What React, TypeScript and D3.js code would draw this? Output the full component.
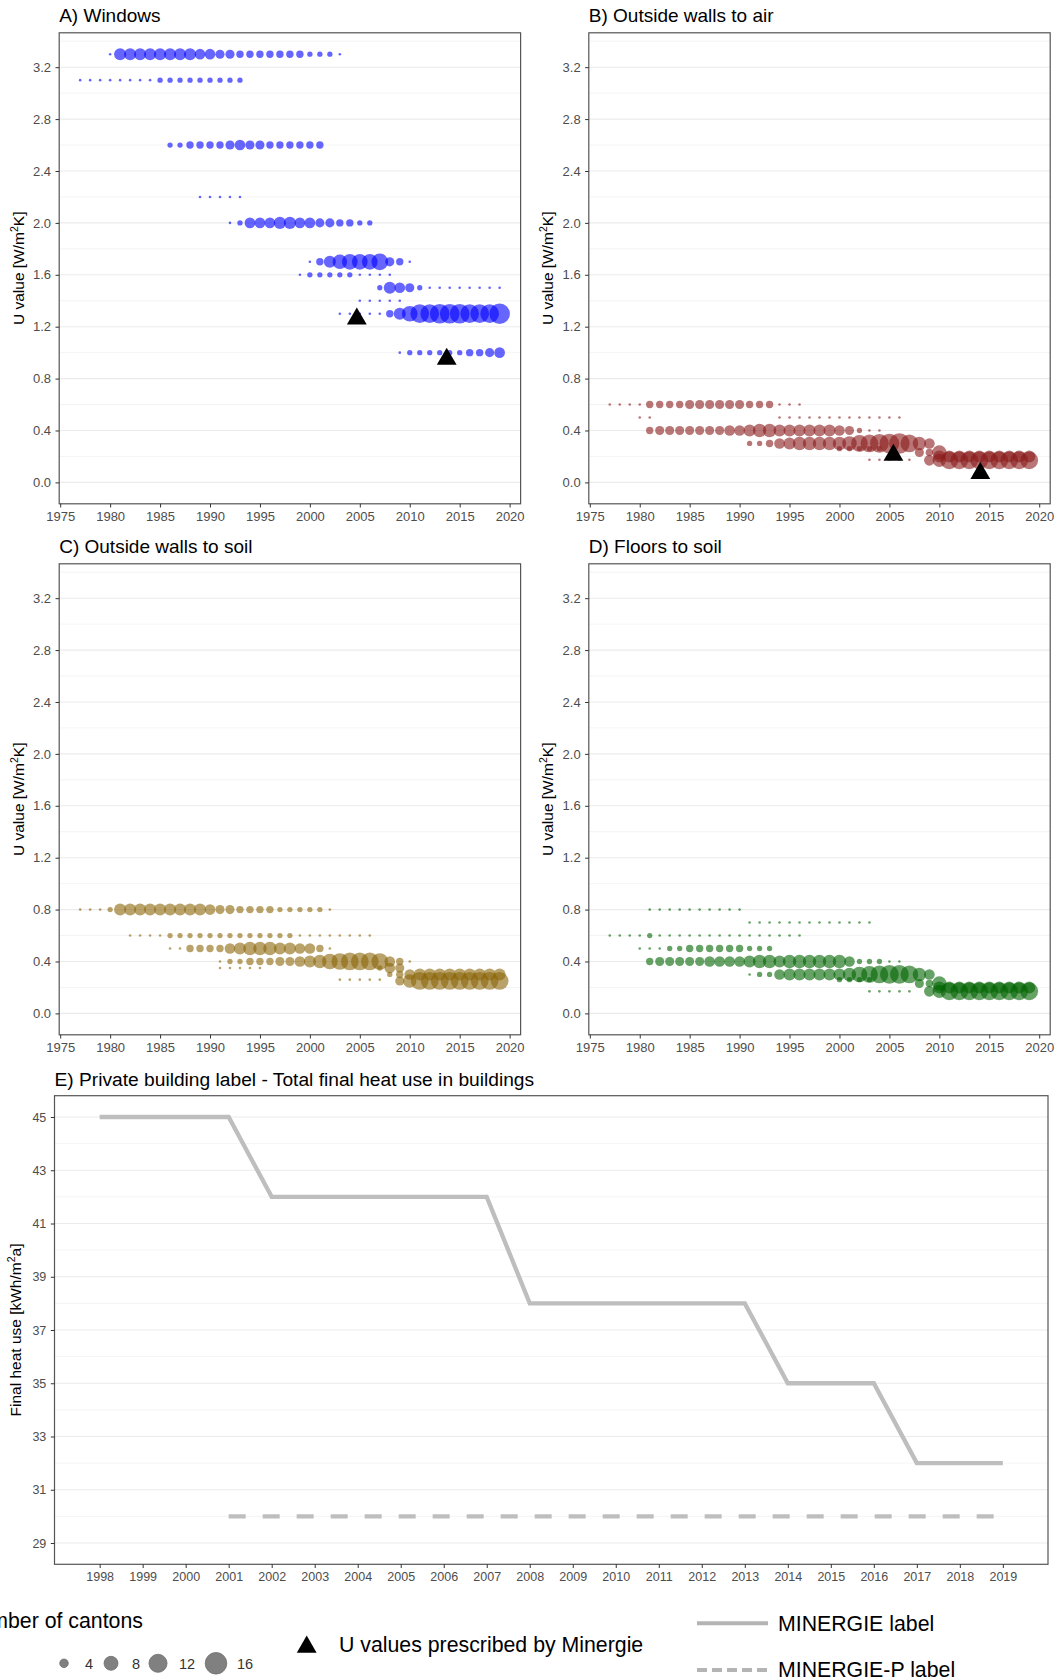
import React, { useEffect, useRef } from 'react';
import * as d3 from 'd3';

type Row = { u: number; from: number; n: number[] };
type Mark = { year: number; u: number };

// number of cantons per year, one row per U value, counts start at `from`
const windowsRows: Row[] = [
  { u: 3.3, from: 1980, n: [1, 6, 6, 6, 6, 6, 6, 6, 6, 5, 5, 4, 4, 3, 3, 3, 3, 3, 3, 3, 2, 2, 2, 1] },
  { u: 3.1, from: 1977, n: [1, 1, 1, 1, 1, 1, 1, 1, 2, 2, 2, 2, 2, 2, 2, 2, 2] },
  { u: 2.6, from: 1986, n: [2, 2, 3, 3, 3, 3, 4, 5, 4, 4, 3, 3, 3, 3, 3, 3] },
  { u: 2.2, from: 1989, n: [1, 1, 1, 1, 1] },
  { u: 2.0, from: 1992, n: [1, 2, 5, 5, 5, 6, 6, 5, 5, 4, 4, 3, 3, 2, 2] },
  { u: 1.7, from: 2000, n: [1, 3, 6, 8, 9, 9, 9, 10, 4, 3, 1] },
  { u: 1.6, from: 1999, n: [1, 2, 2, 2, 2, 2, 1, 1, 1, 1] },
  { u: 1.5, from: 2007, n: [2, 6, 5, 4, 2, 1, 1, 1, 1, 1, 1, 1, 1] },
  { u: 1.4, from: 2005, n: [1, 1, 1, 1, 1] },
  { u: 1.3, from: 2003, n: [1, 1, 1, 1, 1, 3, 6, 9, 12, 12, 13, 13, 13, 12, 12, 12, 14] },
  { u: 1.0, from: 2009, n: [1, 2, 2, 2, 2, 2, 2, 3, 3, 4, 5] },
];

const wallsAirRows: Row[] = [
  { u: 0.6, from: 1977, n: [1, 1, 1, 1, 3, 3, 3, 3, 4, 4, 4, 4, 4, 4, 3, 3, 3, 1, 1, 1] },
  { u: 0.5, from: 1980, n: [1, 1] },
  { u: 0.5, from: 1994, n: [1, 1, 1, 1, 1, 1, 1, 1, 1, 1, 1, 1, 1] },
  { u: 0.4, from: 1981, n: [3, 4, 4, 4, 4, 4, 4, 4, 5, 5, 6, 7, 7, 6, 6, 6, 6, 6, 6, 5, 4, 2, 1, 1] },
  { u: 0.3, from: 1991, n: [2, 2, 3, 5, 6, 7, 7, 7, 7, 7, 8, 10, 11, 12, 13, 14, 11, 7, 5] },
  { u: 0.26, from: 2000, n: [2, 2, 2, 2, 2] },
  { u: 0.175, from: 2003, n: [1, 1, 1, 1, 1] },
  { u: 0.23, from: 2008, n: [4, 3, 8] },
  { u: 0.2, from: 2010, n: [6, 6, 6, 6, 6, 6, 6, 6, 6, 6] },
  { u: 0.17, from: 2009, n: [5, 7, 11, 11, 11, 11, 11, 11, 11, 11, 11] },
];

const wallsSoilRows: Row[] = [
  { u: 0.8, from: 1977, n: [1, 1, 1, 2, 6, 6, 6, 6, 6, 6, 6, 6, 6, 5, 4, 4, 3, 3, 3, 3, 2, 2, 2, 2, 2, 1] },
  { u: 0.6, from: 1982, n: [1, 1, 1, 1, 2, 2, 2, 2, 2, 2, 2, 2, 2, 2, 2, 2, 2, 1, 1, 1, 1, 1, 1, 1, 1] },
  { u: 0.5, from: 1986, n: [1, 1, 3, 3, 3, 3, 5, 6, 7, 7, 7, 6, 6, 5, 5, 3, 1] },
  { u: 0.4, from: 1991, n: [1, 2, 2, 3, 3, 3, 4, 4, 5, 6, 7, 9, 10, 11, 11, 11, 10, 5, 3, 1] },
  { u: 0.35, from: 1991, n: [1, 1, 1, 1, 1] },
  { u: 0.35, from: 2007, n: [2, 5, 4] },
  { u: 0.26, from: 2003, n: [1, 1, 1, 1, 1] },
  { u: 0.3, from: 2008, n: [2, 3, 5, 6, 6, 6, 6, 6, 6, 6, 6, 6] },
  { u: 0.25, from: 2009, n: [4, 7, 11, 11, 11, 11, 11, 11, 11, 11, 11] },
];

const floorsSoilRows: Row[] = [
  { u: 0.8, from: 1981, n: [1, 1, 1, 1, 1, 1, 1, 1, 1, 1] },
  { u: 0.7, from: 1991, n: [1, 1, 1, 1, 1, 1, 1, 1, 1, 1, 1, 1, 1] },
  { u: 0.6, from: 1977, n: [1, 1, 1, 1, 2, 1, 1, 1, 1, 1, 1, 1, 1, 1, 1, 1, 1, 1, 1, 1] },
  { u: 0.5, from: 1980, n: [1, 1, 1, 2, 2, 3, 3, 3, 3, 3, 3, 2, 2, 2] },
  { u: 0.4, from: 1981, n: [3, 4, 4, 4, 4, 4, 5, 5, 5, 5, 6, 7, 7, 6, 7, 7, 7, 7, 7, 7, 5, 2, 2, 2, 1, 1] },
  { u: 0.3, from: 1991, n: [1, 2, 2, 5, 6, 6, 6, 6, 6, 6, 7, 9, 10, 11, 12, 12, 11, 7, 5] },
  { u: 0.26, from: 2000, n: [2, 2, 2, 2] },
  { u: 0.17, from: 2003, n: [1, 1, 1, 1, 1] },
  { u: 0.23, from: 2008, n: [4, 3, 8] },
  { u: 0.2, from: 2010, n: [6, 6, 6, 6, 6, 6, 6, 6, 6, 6] },
  { u: 0.17, from: 2009, n: [5, 7, 11, 11, 11, 11, 11, 11, 11, 11, 11] },
];

// U values prescribed by Minergie
const windowsMinergie: Mark[] = [{ year: 2004.7, u: 1.26 }, { year: 2013.7, u: 0.95 }];
const wallsAirMinergie: Mark[] = [{ year: 2005.4, u: 0.21 }, { year: 2014.1, u: 0.07 }];

// E) label limits
const minergieYears = [1998, 2001, 2002, 2007, 2008, 2013, 2014, 2016, 2017, 2019];
const minergieHeat = [45, 45, 42, 42, 38, 38, 35, 35, 32, 32];
const minergiePYears = [2001, 2019];
const minergiePHeat = [30, 30];

const legendSizes = [4, 8, 12, 16];
const uTicks = [0, 0.4, 0.8, 1.2, 1.6, 2.0, 2.4, 2.8, 3.2];
const uMinor = [0.2, 0.6, 1.0, 1.4, 1.8, 2.2, 2.6, 3.0, 3.4];
const yearTicks = [1975, 1980, 1985, 1990, 1995, 2000, 2005, 2010, 2015, 2020];
const heatTicks = [29, 31, 33, 35, 37, 39, 41, 43, 45];
const heatMinor = [30, 32, 34, 36, 38, 40, 42, 44];
const labelYears = d3.range(1998, 2020);

const W = 1057;
const H = 1678;
const FONT = "'Liberation Sans', Arial, Helvetica, sans-serif";

const panels = [
  { title: 'A) Windows', rows: windowsRows, tri: windowsMinergie, color: '#0000ff', x: 59.2, y: 32.8 },
  { title: 'B) Outside walls to air', rows: wallsAirRows, tri: wallsAirMinergie, color: '#8b1a1a', x: 588.8, y: 32.8 },
  { title: 'C) Outside walls to soil', rows: wallsSoilRows, tri: [], color: '#8b6508', x: 59.2, y: 563.8 },
  { title: 'D) Floors to soil', rows: floorsSoilRows, tri: [], color: '#006400', x: 588.8, y: 563.8 },
];
const PW = 461.4;
const PH = 471;

// circle radius from sqrt(count)
const rScale = d3.scaleLinear().domain([1, 4]).range([1.3, 11.1]);

const App = () => {
  const ref = useRef<SVGSVGElement>(null);

  useEffect(() => {
    const svg = d3.select(ref.current);
    svg.selectAll('*').remove();
    svg.append('rect').attr('width', W).attr('height', H).attr('fill', '#fff');

    const styleAxis = (g: any, size: number) => {
      g.select('.domain').remove();
      g.attr('font-family', FONT).attr('font-size', size);
      g.selectAll('line').attr('stroke', '#333').attr('stroke-width', 1);
      g.selectAll('text').attr('fill', '#4d4d4d');
    };

    const yTitle = (x: number, cy: number, main: string, tail: string) => {
      const t = svg.append('text')
        .attr('transform', `translate(${x},${cy}) rotate(-90)`)
        .attr('text-anchor', 'middle')
        .attr('dy', '0.35em')
        .attr('font-family', FONT)
        .attr('font-size', 15.5)
        .attr('fill', '#000');
      t.append('tspan').text(main);
      t.append('tspan').attr('font-size', 10.5).attr('dy', -6).text('2');
      t.append('tspan').attr('dy', 6).text(tail);
    };

    panels.forEach((p) => {
      const x = d3.scaleLinear().domain([1974.9, 2021.1]).range([p.x, p.x + PW]);
      const y = d3.scaleLinear().domain([-0.165, 3.465]).range([p.y + PH, p.y]);
      const g = svg.append('g');

      g.selectAll('.minor').data(uMinor).enter().append('line')
        .attr('x1', p.x).attr('x2', p.x + PW)
        .attr('y1', (d) => y(d)).attr('y2', (d) => y(d))
        .attr('stroke', '#efefef').attr('stroke-width', 0.7);
      g.selectAll('.major').data(uTicks).enter().append('line')
        .attr('x1', p.x).attr('x2', p.x + PW)
        .attr('y1', (d) => y(d)).attr('y2', (d) => y(d))
        .attr('stroke', '#ebebeb').attr('stroke-width', 1.1);

      const pts = p.rows.flatMap((r) => r.n.map((n, i) => ({ year: r.from + i, u: r.u, n })));
      g.selectAll('.dot').data(pts).enter().append('circle')
        .attr('cx', (d) => x(d.year))
        .attr('cy', (d) => y(d.u))
        .attr('r', (d) => rScale(Math.sqrt(d.n)))
        .attr('fill', p.color)
        .attr('fill-opacity', 0.6);

      g.selectAll('.tri').data(p.tri).enter().append('path')
        .attr('d', d3.symbol(d3.symbolTriangle, 170)() as string)
        .attr('transform', (d) => `translate(${x(d.year)},${y(d.u)})`)
        .attr('fill', '#000');

      g.append('rect')
        .attr('x', p.x).attr('y', p.y).attr('width', PW).attr('height', PH)
        .attr('fill', 'none').attr('stroke', '#555').attr('stroke-width', 1.2);

      g.append('g')
        .attr('transform', `translate(0,${p.y + PH})`)
        .call(d3.axisBottom(x).tickValues(yearTicks).tickFormat(d3.format('d')).tickSize(3.7).tickPadding(4.5))
        .call((a) => styleAxis(a, 13));
      g.append('g')
        .attr('transform', `translate(${p.x},0)`)
        .call(d3.axisLeft(y).tickValues(uTicks).tickFormat(d3.format('.1f')).tickSize(3.7).tickPadding(4.5))
        .call((a) => styleAxis(a, 13));

      svg.append('text')
        .attr('x', p.x).attr('y', p.y - 10.5)
        .attr('font-family', FONT).attr('font-size', 19).attr('fill', '#000')
        .text(p.title);

      yTitle(p.x - 41, p.y + PH / 2, 'U value [W/m', 'K]');
    });

    // E) private building label
    const ex = { x: 54.5, y: 1095.7, w: 993.5, h: 468.6 };
    const x = d3.scaleLinear().domain([1996.95, 2020.05]).range([ex.x, ex.x + ex.w]);
    const y = d3.scaleLinear().domain([28.2, 45.8]).range([ex.y + ex.h, ex.y]);
    const e = svg.append('g');
    e.selectAll('.minor').data(heatMinor).enter().append('line')
      .attr('x1', ex.x).attr('x2', ex.x + ex.w)
      .attr('y1', (d) => y(d)).attr('y2', (d) => y(d))
      .attr('stroke', '#efefef').attr('stroke-width', 0.7);
    e.selectAll('.major').data(heatTicks).enter().append('line')
      .attr('x1', ex.x).attr('x2', ex.x + ex.w)
      .attr('y1', (d) => y(d)).attr('y2', (d) => y(d))
      .attr('stroke', '#ebebeb').attr('stroke-width', 1.1);

    const line = d3.line<number>().x((d, i) => x(minergieYears[i])).y((d) => y(d));
    e.append('path').attr('d', line(minergieHeat))
      .attr('fill', 'none').attr('stroke', '#bebebe').attr('stroke-width', 4.3);
    const lineP = d3.line<number>().x((d, i) => x(minergiePYears[i])).y((d) => y(d));
    e.append('path').attr('d', lineP(minergiePHeat))
      .attr('fill', 'none').attr('stroke', '#bebebe').attr('stroke-width', 4.3)
      .attr('stroke-dasharray', '17,17');

    e.append('rect')
      .attr('x', ex.x).attr('y', ex.y).attr('width', ex.w).attr('height', ex.h)
      .attr('fill', 'none').attr('stroke', '#555').attr('stroke-width', 1.2);
    e.append('g')
      .attr('transform', `translate(0,${ex.y + ex.h})`)
      .call(d3.axisBottom(x).tickValues(labelYears).tickFormat(d3.format('d')).tickSize(3.7).tickPadding(4.5))
      .call((a) => styleAxis(a, 12.5));
    e.append('g')
      .attr('transform', `translate(${ex.x},0)`)
      .call(d3.axisLeft(y).tickValues(heatTicks).tickSize(3.7).tickPadding(4.5))
      .call((a) => styleAxis(a, 12.5));
    svg.append('text')
      .attr('x', ex.x).attr('y', ex.y - 9.7)
      .attr('font-family', FONT).attr('font-size', 19.2).attr('fill', '#000')
      .text('E) Private building label - Total final heat use in buildings');
    yTitle(16, ex.y + ex.h / 2, 'Final heat use [kWh/m', 'a]');

    // legends (the size legend title runs off the left edge, as in the source figure)
    const lg = svg.append('g').attr('font-family', FONT);
    lg.append('text').attr('x', -37).attr('y', 1628.3).attr('font-size', 21.3).text('Number of cantons');
    const keyX = [64, 111, 158, 216];
    lg.selectAll('.key').data(legendSizes).enter().append('circle')
      .attr('cx', (d, i) => keyX[i]).attr('cy', 1663.3)
      .attr('r', (d) => rScale(Math.sqrt(d)) - 0.3)
      .attr('fill', '#808080').attr('stroke', '#6e6e6e').attr('stroke-width', 0.8);
    lg.selectAll('.keylab').data(legendSizes).enter().append('text')
      .attr('x', (d, i) => keyX[i] + 21).attr('y', 1668.5)
      .attr('font-size', 14.5).attr('fill', '#333')
      .text((d) => d);

    lg.append('path')
      .attr('d', d3.symbol(d3.symbolTriangle, 170)() as string)
      .attr('transform', 'translate(306.7,1647)').attr('fill', '#000');
    lg.append('text').attr('x', 339).attr('y', 1652).attr('font-size', 21.3).text('U values prescribed by Minergie');

    lg.append('line').attr('x1', 697).attr('x2', 768).attr('y1', 1623.3).attr('y2', 1623.3)
      .attr('stroke', '#b4b4b4').attr('stroke-width', 4);
    lg.append('text').attr('x', 778).attr('y', 1630.7).attr('font-size', 21.3).text('MINERGIE label');
    lg.append('line').attr('x1', 697).attr('x2', 768).attr('y1', 1670).attr('y2', 1670)
      .attr('stroke', '#b4b4b4').attr('stroke-width', 4).attr('stroke-dasharray', '10,5');
    lg.append('text').attr('x', 778).attr('y', 1677.3).attr('font-size', 21.3).text('MINERGIE-P label');

    return () => {
      svg.selectAll('*').remove();
    };
  }, []);

  return (
    <svg
      ref={ref}
      width={W}
      height={H}
      style={{ position: 'absolute', left: 0, top: 0, display: 'block' }}
    />
  );
};

export default App;
